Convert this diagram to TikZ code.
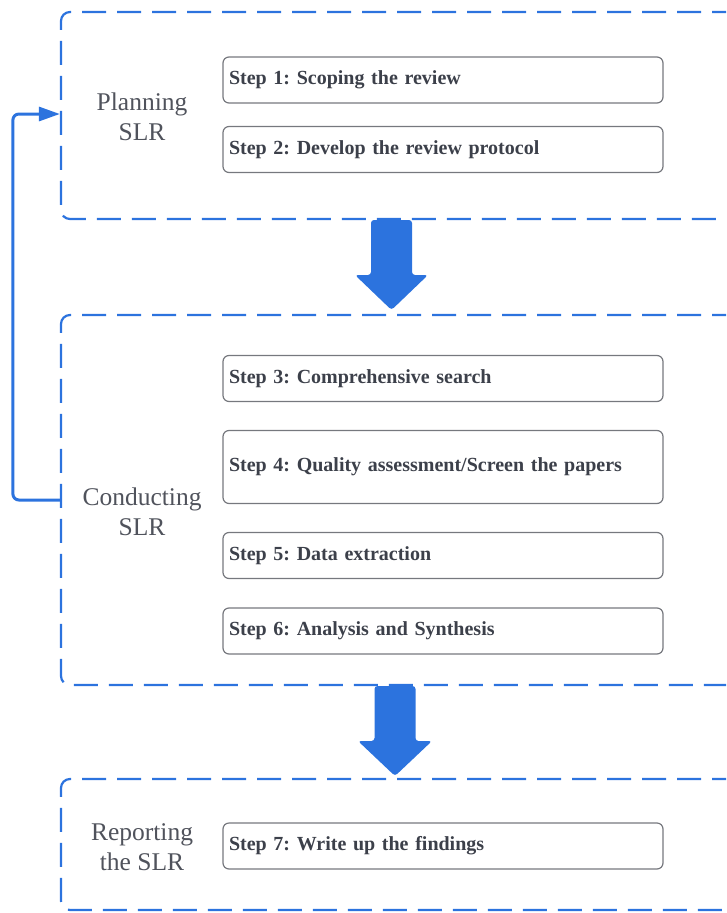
\documentclass[tikz,border=0pt]{standalone}
\usepackage{fontspec}
\setmainfont{Liberation Serif}
\frenchspacing
\usetikzlibrary{calc}
\usetikzlibrary{positioning}
\usetikzlibrary{arrows.meta}

\definecolor{slrblue}{RGB}{44,115,222}
\definecolor{stepgray}{RGB}{118,120,126}
\definecolor{inkgray}{RGB}{60,64,74}

\begin{document}
\begin{tikzpicture}[
        x=1pt, y=-1pt,
        >=Latex,
        phase/.style={draw=slrblue, line width=2.2pt, rounded corners=9pt,
            dash pattern=on 24pt off 11pt},
        phaselabel/.style={font=\fontsize{25.5}{30.5}\selectfont, text=inkgray!90,
            align=center},
        stepbox/.style={draw=stepgray, line width=1.2pt, rounded corners=6pt,
            minimum width=440pt, text width=428pt, inner sep=6pt, align=left,
            font=\fontsize{20}{24}\selectfont\bfseries, text=inkgray},
        bigarrow/.style={fill=slrblue, rounded corners=3pt},
        back/.style={draw=slrblue, line width=3pt, rounded corners=6pt,
            -{Triangle[length=21pt,width=14pt]}}
    ]

    \useasboundingbox (0,0) rectangle (726,913);
    \clip (0,0) rectangle (726,913);

    % phases
    \node[phase, minimum width=719pt, minimum height=207pt] (BP) at (420.5,115.5) {};
    \node[phase, minimum width=719pt, minimum height=370pt] (BC) at (420.5,500) {};
    \node[phase, minimum width=719pt, minimum height=131pt] (BR) at (420.5,844.5) {};

    \node[phaselabel] (P) at (142,117) {Planning\\SLR};
    \node[phaselabel] (C) at (142,512) {Conducting\\SLR};
    \node[phaselabel] (R) at (142,847) {Reporting\\the SLR};

    % steps
    \node[stepbox, minimum height=46pt] (S1) at (443,80) {Step 1: Scoping the review};
    \node[stepbox, minimum height=46pt] (S2) at (443,149.5) {Step 2: Develop the review protocol};
    \node[stepbox, minimum height=46pt] (S3) at (443,378.5) {Step 3: Comprehensive search};
    \node[stepbox, minimum height=73pt] (S4) at (443,467) {Step 4: Quality assessment/Screen the papers};
    \node[stepbox, minimum height=46pt] (S5) at (443,555.5) {Step 5: Data extraction};
    \node[stepbox, minimum height=46pt] (S6) at (443,631) {Step 6: Analysis and Synthesis};
    \node[stepbox, minimum height=46pt] (S7) at (443,846) {Step 7: Write up the findings};

    % block arrows between phases
    \coordinate (A1) at (391.5,220);
    \coordinate (T1) at (391.5,310);
    \coordinate (A2) at (395,686);
    \coordinate (T2) at (395,776);

    \fill[bigarrow] ($(A1)+(-20.5,0)$) -- ($(A1)+(20.5,0)$) -- ($(A1)+(20.5,55)$)
        -- ($(A1)+(36.5,55)$) -- (T1) -- ($(A1)+(-36.5,55)$)
        -- ($(A1)+(-20.5,55)$) -- cycle;
    \fill[bigarrow] ($(A2)+(-20.5,0)$) -- ($(A2)+(20.5,0)$) -- ($(A2)+(20.5,55)$)
        -- ($(A2)+(37,55)$) -- (T2) -- ($(A2)+(-37,55)$)
        -- ($(A2)+(-20.5,55)$) -- cycle;

    % back to planning
    \draw[back] (BC.west) -- ++(-47,0) |- ([yshift=1.5pt]BP.west);

\end{tikzpicture}
\end{document}
